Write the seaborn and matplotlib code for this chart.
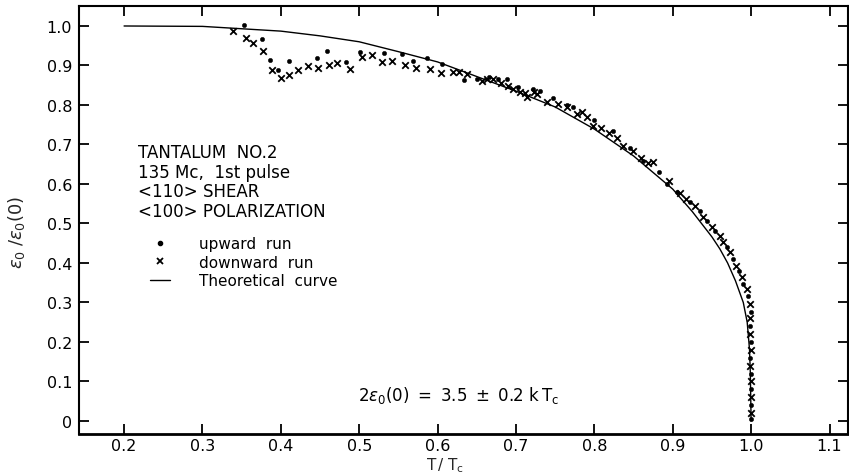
import matplotlib
matplotlib.use("Agg")
import matplotlib.pyplot as plt
import seaborn as sns
import pandas as pd
from matplotlib.lines import Line2D

# ---- data ----
up_x = [0.353, 0.376, 0.386, 0.396, 0.410, 0.446, 0.459, 0.483, 0.501, 0.532,
        0.555, 0.569, 0.586, 0.606, 0.634, 0.650, 0.665, 0.677, 0.688, 0.703,
        0.722, 0.731, 0.747, 0.765, 0.773, 0.800, 0.824, 0.846, 0.862, 0.883,
        0.893, 0.905, 0.922, 0.935, 0.944, 0.954, 0.969, 0.977, 0.984, 0.990,
        0.996, 1.000, 0.999, 1.000, 0.999, 1.000, 1.000, 1.000, 1.000]
up_y = [1.003, 0.967, 0.914, 0.889, 0.911, 0.919, 0.937, 0.909, 0.934, 0.932,
        0.929, 0.911, 0.919, 0.904, 0.863, 0.866, 0.870, 0.866, 0.866, 0.846,
        0.841, 0.835, 0.818, 0.800, 0.795, 0.762, 0.734, 0.691, 0.658, 0.630,
        0.600, 0.580, 0.554, 0.532, 0.506, 0.481, 0.441, 0.410, 0.380, 0.347,
        0.316, 0.276, 0.240, 0.200, 0.160, 0.120, 0.080, 0.040, 0.005]

down_x = [0.339, 0.356, 0.364, 0.377, 0.389, 0.400, 0.410, 0.422, 0.435, 0.447,
          0.461, 0.472, 0.488, 0.504, 0.516, 0.529, 0.542, 0.558, 0.572, 0.590,
          0.604, 0.620, 0.627, 0.637, 0.657, 0.663, 0.671, 0.681, 0.690, 0.696,
          0.705, 0.712, 0.714, 0.723, 0.727, 0.740, 0.754, 0.765, 0.778, 0.784,
          0.790, 0.798, 0.808, 0.819, 0.829, 0.837, 0.849, 0.860, 0.868, 0.875,
          0.895, 0.909, 0.917, 0.928, 0.939, 0.950, 0.960, 0.964, 0.973, 0.981,
          0.988, 0.995, 0.999, 0.998, 0.999, 1.000, 0.999, 1.000, 1.000, 1.000]
down_y = [0.987, 0.970, 0.957, 0.937, 0.889, 0.868, 0.875, 0.889, 0.899, 0.894,
          0.901, 0.906, 0.891, 0.922, 0.927, 0.909, 0.911, 0.901, 0.894, 0.891,
          0.881, 0.884, 0.884, 0.878, 0.861, 0.866, 0.866, 0.856, 0.848, 0.841,
          0.833, 0.830, 0.820, 0.833, 0.828, 0.808, 0.803, 0.795, 0.777, 0.782,
          0.770, 0.747, 0.742, 0.729, 0.716, 0.696, 0.684, 0.666, 0.653, 0.656,
          0.608, 0.577, 0.562, 0.544, 0.516, 0.491, 0.468, 0.453, 0.428, 0.392,
          0.365, 0.334, 0.296, 0.260, 0.220, 0.180, 0.140, 0.100, 0.060, 0.020]

curve_x = [0.20, 0.30, 0.40, 0.45, 0.50, 0.55, 0.60, 0.65, 0.70, 0.75,
           0.80, 0.85, 0.90, 0.925, 0.95, 0.96, 0.97, 0.98, 0.99, 0.995,
           0.998, 0.999, 1.000]
curve_y = [1.000, 0.999, 0.987, 0.975, 0.960, 0.935, 0.909, 0.872, 0.835, 0.795,
           0.739, 0.671, 0.587, 0.530, 0.466, 0.436, 0.400, 0.355, 0.300, 0.250,
           0.180, 0.120, 0.000]

x_ticks = [0.2, 0.3, 0.4, 0.5, 0.6, 0.7, 0.8, 0.9, 1.0, 1.1]
x_ticklabels = ["0.2", "0.3", "0.4", "0.5", "0.6", "0.7", "0.8", "0.9", "1.0", "1.1"]
y_ticks = [0.0, 0.1, 0.2, 0.3, 0.4, 0.5, 0.6, 0.7, 0.8, 0.9, 1.0]
y_ticklabels = ["0", "0.1", "0.2", "0.3", "0.4", "0.5", "0.6", "0.7", "0.8", "0.9", "1.0"]

sample_lines = ["TANTALUM  NO.2", "135 Mc,  1st pulse", "<110> SHEAR", "<100> POLARIZATION"]
legend_labels = ["upward  run", "downward  run", "Theoretical  curve"]

# ---- plotting ----
sns.set_style("ticks")
plt.rcParams["font.family"] = ["DejaVu Sans"]
plt.rcParams["mathtext.fontset"] = "dejavusans"

fig = plt.figure(figsize=(8.49, 4.77), dpi=100)
ax = fig.add_axes([79 / 849, 1 - 435 / 477, 769 / 849, 428 / 477])

df_up = pd.DataFrame({"x": up_x, "y": up_y})
df_down = pd.DataFrame({"x": down_x, "y": down_y})
df_curve = pd.DataFrame({"x": curve_x, "y": curve_y})

sns.lineplot(data=df_curve, x="x", y="y", ax=ax, color="black", lw=1.0,
             sort=False, estimator=None)
sns.scatterplot(data=df_up, x="x", y="y", ax=ax, marker="o", s=10,
                color="black", edgecolor="black", linewidth=0.3)
sns.scatterplot(data=df_down, x="x", y="y", ax=ax, marker="x", s=22,
                color="black", linewidth=1.3)

ax.set_xlim(0.1425, 1.1236)
ax.set_ylim(-0.033, 1.0506)
ax.set_xticks(x_ticks)
ax.set_xticklabels(x_ticklabels)
ax.set_yticks(y_ticks)
ax.set_yticklabels(y_ticklabels)
ax.tick_params(direction="in", length=7, width=1.3, top=True, right=True,
               labelsize=11.5, colors="black")
ax.tick_params(axis="x", pad=3)
ax.tick_params(axis="y", pad=5)
for side in ["left", "right", "top"]:
    ax.spines[side].set_linewidth(1.5)
ax.spines["bottom"].set_linewidth(2.0)
for sp in ax.spines.values():
    sp.set_color("black")

ax.set_xlabel(r"$\mathrm{T\,/\;T_c}$", fontsize=11)
ax.set_ylabel(r"$\epsilon_0\;/\epsilon_0(0)$", fontsize=13)
ax.xaxis.set_label_coords(0.476, -0.049)
ax.yaxis.set_label_coords(-0.068, 0.474)

# sample description
for i, line in enumerate(sample_lines):
    ax.text(0.2175, 0.681 - i * 0.0495, line, fontsize=12, ha="left",
            va="center", color="black")

# legend
handles = [
    Line2D([], [], marker="o", ls="none", color="black", markersize=3),
    Line2D([], [], marker="x", ls="none", color="black", markersize=5, mew=1.3),
    Line2D([], [], ls="-", color="black", lw=1.0),
]
leg = ax.legend(handles, legend_labels, loc="upper left",
                bbox_to_anchor=(0.092, 0.462), frameon=False, fontsize=11,
                handlelength=1.3, handletextpad=1.9, labelspacing=0.22,
                borderpad=0, borderaxespad=0)
for t in leg.get_texts():
    t.set_color("black")

ax.text(0.4984, 0.068, r"$2\epsilon_0(0)\ =\ 3.5\ \pm\ 0.2\ \mathrm{k\,T_c}$",
        fontsize=12, ha="left", va="center", color="black")

fig.savefig("out.png", dpi=100, facecolor="white")
